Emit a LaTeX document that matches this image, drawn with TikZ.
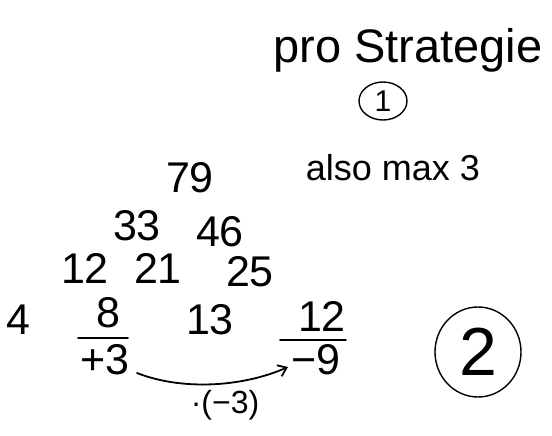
\documentclass[tikz,border=0pt]{standalone}
\usepackage{fontspec}
\setmainfont{Liberation Sans}
\usetikzlibrary{arrows.meta,shapes.geometric}
\tikzset{
  num/.style={inner sep=0pt, font=\fontsize{43}{45}\selectfont},
  small/.style={inner sep=0pt, font=\fontsize{36}{38}\selectfont},
  stroke/.style={line width=1.8pt, line cap=round},
  ring/.style={draw, ellipse, line width=1.4pt, inner sep=0pt}
}
\begin{document}
\begin{tikzpicture}[x=1pt,y=-1pt]
\useasboundingbox[fill=white] (0,0) rectangle (552,436);
% headings
\node[inner sep=0pt, font=\fontsize{47}{49}\selectfont] (title) at (408,50) {pro Strategie};
\node[ring, minimum width=48pt, minimum height=38pt, font=\fontsize{30}{32}\selectfont] (c1) at (383,101) {1};
\node[small] (also) at (393,168) {also max 3};
% pyramid
\node[num] (n79) at (190,178) {79};
\node[num] (n33) at (137,226) {33};
\node[num] (n46) at (220,232) {46};
\node[num] (n12a) at (85,268) {12};
\node[num] (n21) at (158,268) {21};
\node[num] (n25) at (250,272) {25};
\node[num] (n4) at (18,320) {4};
\node[num] (n8) at (108,313) {8};
\node[num] (n13) at (210,320) {13};
\node[num] (n12b) at (322,316) {12};
% under lines
\coordinate (l8a) at (78,338);
\coordinate (l8b) at (128,338);
\coordinate (l12a) at (280,340);
\coordinate (l12b) at (346,340);
\draw[stroke] (l8a) -- (l8b);
\draw[stroke] (l12a) -- (l12b);
\node[num] (p3) at (105,360) {+3};
\node[num] (m9) at (316,360) {−9};
% arrow
\coordinate (as) at (137,373);
\coordinate (ae) at (288,367);
\draw[stroke, -{Straight Barb[length=8pt,width=12pt]}] (as) .. controls (180,390) and (240,388) .. (ae);
\node[inner sep=0pt, font=\fontsize{32}{34}\selectfont] (fac) at (225,405) {·(−3)};
% circle 2
\node[ring, minimum width=86pt, minimum height=90pt, font=\fontsize{68}{70}\selectfont] (c2) at (478,352) {2};
\end{tikzpicture}
\end{document}
